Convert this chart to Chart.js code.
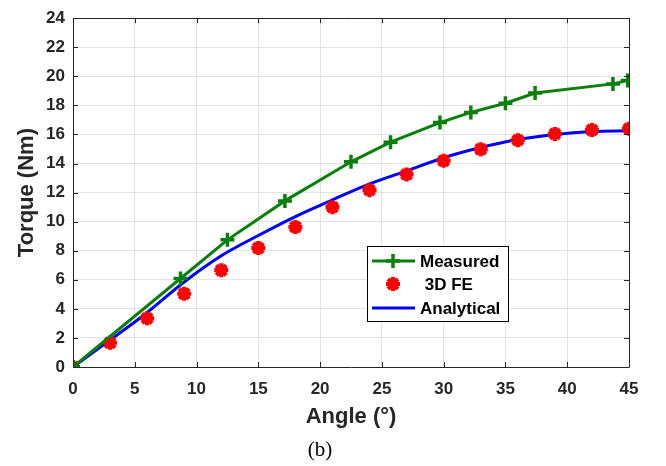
<!DOCTYPE html>
<html>
<head>
<meta charset="utf-8">
<script src="https://cdn.jsdelivr.net/npm/chart.js@4/dist/chart.umd.min.js"></script>
<style>
  html, body { margin: 0; padding: 0; background: #ffffff; }
  #wrap { position: relative; width: 666px; height: 466px; }
  #c { position: absolute; left: 0; top: 0; }
  #cap { position: absolute; left: 0; width: 640px; top: 437px; text-align: center;
         font-family: "Liberation Serif", "Times New Roman", serif; font-size: 21px; color: #000; }
</style>
</head>
<body>
<div id="wrap">
  <canvas id="c" width="666" height="466"></canvas>
  <div id="cap">(b)</div>
</div>
<script>
// ---- data ----
const measuredAngle  = [0, 8.7, 12.5, 17.15, 22.5, 25.7, 29.7, 32.2, 35.0, 37.4, 43.7, 44.9];
const measuredTorque = [0, 6.09, 8.75, 11.43, 14.12, 15.47, 16.82, 17.52, 18.15, 18.85, 19.48, 19.72];

const feAngle  = [0, 3, 6, 9, 12, 15, 18, 21, 24, 27, 30, 33, 36, 39, 42, 45];
const feTorque = [0, 1.67, 3.35, 5.04, 6.66, 8.19, 9.63, 11.0, 12.17, 13.25, 14.19, 14.98, 15.61, 16.04, 16.31, 16.4];

const anaAngle  = [0, 3, 6, 9, 12, 15, 18, 21, 24, 27, 30, 33, 36, 39, 42, 45];
const anaTorque = [0, 1.85, 3.75, 5.85, 7.65, 9.05, 10.35, 11.5, 12.6, 13.5, 14.4, 15.1, 15.65, 16.0, 16.2, 16.25];

const xTicks = [0, 5, 10, 15, 20, 25, 30, 35, 40, 45];
const yTicks = [0, 2, 4, 6, 8, 10, 12, 14, 16, 18, 20, 22, 24];

const seriesNames = ['Measured', ' 3D FE', 'Analytical'];
const xTitle = 'Angle (°)';
const yTitle = 'Torque (Nm)';

const GREEN = '#0a800a';
const RED = '#ff0000';
const BLUE = '#0000ff';
const AXIS = '#262626';
const FONT = '"Liberation Sans", Arial, sans-serif';

function pts(xs, ys) { return xs.map((x, i) => ({ x: x, y: ys[i] })); }

// MATLAB-style box with inward ticks
const boxPlugin = {
  id: 'box',
  afterDatasetsDraw(chart) {
    const { ctx, chartArea: a, scales } = chart;
    ctx.save();
    ctx.strokeStyle = AXIS;
    ctx.lineWidth = 1;
    ctx.beginPath();
    ctx.rect(Math.round(a.left) + 0.5, Math.round(a.top) + 0.5, Math.round(a.right - a.left), Math.round(a.bottom - a.top));
    ctx.stroke();
    const L = 5;
    ctx.beginPath();
    xTicks.forEach(v => {
      const px = Math.round(scales.x.getPixelForValue(v)) + 0.5;
      ctx.moveTo(px, a.bottom); ctx.lineTo(px, a.bottom - L);
      ctx.moveTo(px, a.top); ctx.lineTo(px, a.top + L);
    });
    yTicks.forEach(v => {
      const py = Math.round(scales.y.getPixelForValue(v)) + 0.5;
      ctx.moveTo(a.left, py); ctx.lineTo(a.left + L, py);
      ctx.moveTo(a.right, py); ctx.lineTo(a.right - L, py);
    });
    ctx.stroke();
    ctx.restore();
  }
};

// Legend drawn inside the axes like MATLAB's
const legendPlugin = {
  id: 'inlegend',
  afterDraw(chart) {
    const { ctx } = chart;
    const bx = 367, by = 246, bw = 141, bh = 75;
    ctx.save();
    ctx.fillStyle = '#ffffff';
    ctx.fillRect(bx, by, bw, bh);
    ctx.strokeStyle = '#000000';
    ctx.lineWidth = 1;
    ctx.strokeRect(bx + 0.5, by + 0.5, bw, bh);
    const rows = [261, 284, 308];
    const x0 = 372, x1 = 415, xm = 393;
    chart.data.datasets.forEach((ds, i) => {
      const y = rows[i];
      if (ds.showLine !== false) {
        ctx.strokeStyle = ds.borderColor;
        ctx.lineWidth = ds.borderWidth;
        ctx.beginPath(); ctx.moveTo(x0, y); ctx.lineTo(x1, y); ctx.stroke();
      }
      if (ds.pointStyle && ds.pointRadius > 0) {
        ctx.strokeStyle = ds.pointBorderColor;
        ctx.fillStyle = ds.pointBorderColor;
        ctx.lineWidth = ds.pointBorderWidth;
        Chart.helpers.drawPoint(ctx, {
          pointStyle: ds.pointStyle,
          radius: ds.pointRadius,
          rotation: 0,
          borderWidth: ds.pointBorderWidth
        }, xm, y);
      }
      ctx.fillStyle = '#000000';
      ctx.font = 'bold 17px ' + FONT;
      ctx.textBaseline = 'middle';
      ctx.textAlign = 'left';
      ctx.fillText(seriesNames[i], 420, y + 1);
    });
    ctx.restore();
  }
};

const chart = new Chart(document.getElementById('c'), {
  type: 'scatter',
  data: {
    datasets: [
      {
        label: seriesNames[0],
        data: pts(measuredAngle, measuredTorque),
        showLine: true,
        borderColor: GREEN,
        backgroundColor: GREEN,
        borderWidth: 3,
        pointStyle: 'cross',
        pointRadius: 7,
        pointBorderWidth: 3.5,
        pointBorderColor: GREEN,
        tension: 0
      },
      {
        label: seriesNames[1],
        data: pts(feAngle, feTorque),
        showLine: false,
        borderColor: RED,
        backgroundColor: RED,
        pointStyle: 'star',
        pointRadius: 7,
        pointBorderWidth: 4.2,
        pointBorderColor: RED
      },
      {
        label: seriesNames[2],
        data: pts(anaAngle, anaTorque),
        showLine: true,
        borderColor: BLUE,
        backgroundColor: BLUE,
        borderWidth: 3,
        pointRadius: 0,
        pointStyle: false,
        cubicInterpolationMode: 'monotone'
      }
    ]
  },
  options: {
    responsive: false,
    animation: false,
    devicePixelRatio: 1,
    layout: { padding: { top: 11, right: 37, left: 0, bottom: 36 } },
    plugins: { legend: { display: false }, tooltip: { enabled: false } },
    scales: {
      x: {
        type: 'linear',
        min: 0, max: 45,
        afterFit(s) { s.height = 63; },
        afterBuildTicks(s) { s.ticks = xTicks.map(v => ({ value: v })); },
        grid: { color: '#e3e3e3', lineWidth: 1, drawTicks: false },
        border: { display: false },
        ticks: { padding: 12, color: AXIS, font: { family: FONT, size: 17, weight: 'bold' }, maxRotation: 0 },
        title: { display: true, text: xTitle, color: AXIS, padding: { top: 0, bottom: 0 },
                 font: { family: FONT, size: 22, weight: 'bold' } }
      },
      y: {
        type: 'linear',
        min: 0, max: 24,
        afterFit(s) { s.width = 73; },
        afterBuildTicks(s) { s.ticks = yTicks.map(v => ({ value: v })); },
        grid: { color: '#e3e3e3', lineWidth: 1, drawTicks: false },
        border: { display: false },
        ticks: { padding: 8, color: AXIS, font: { family: FONT, size: 17, weight: 'bold' } },
        title: { display: true, text: yTitle, color: AXIS, padding: { top: 14, bottom: 0 },
                 font: { family: FONT, size: 22, weight: 'bold' } }
      }
    }
  },
  plugins: [boxPlugin, legendPlugin]
});
</script>
</body>
</html>
